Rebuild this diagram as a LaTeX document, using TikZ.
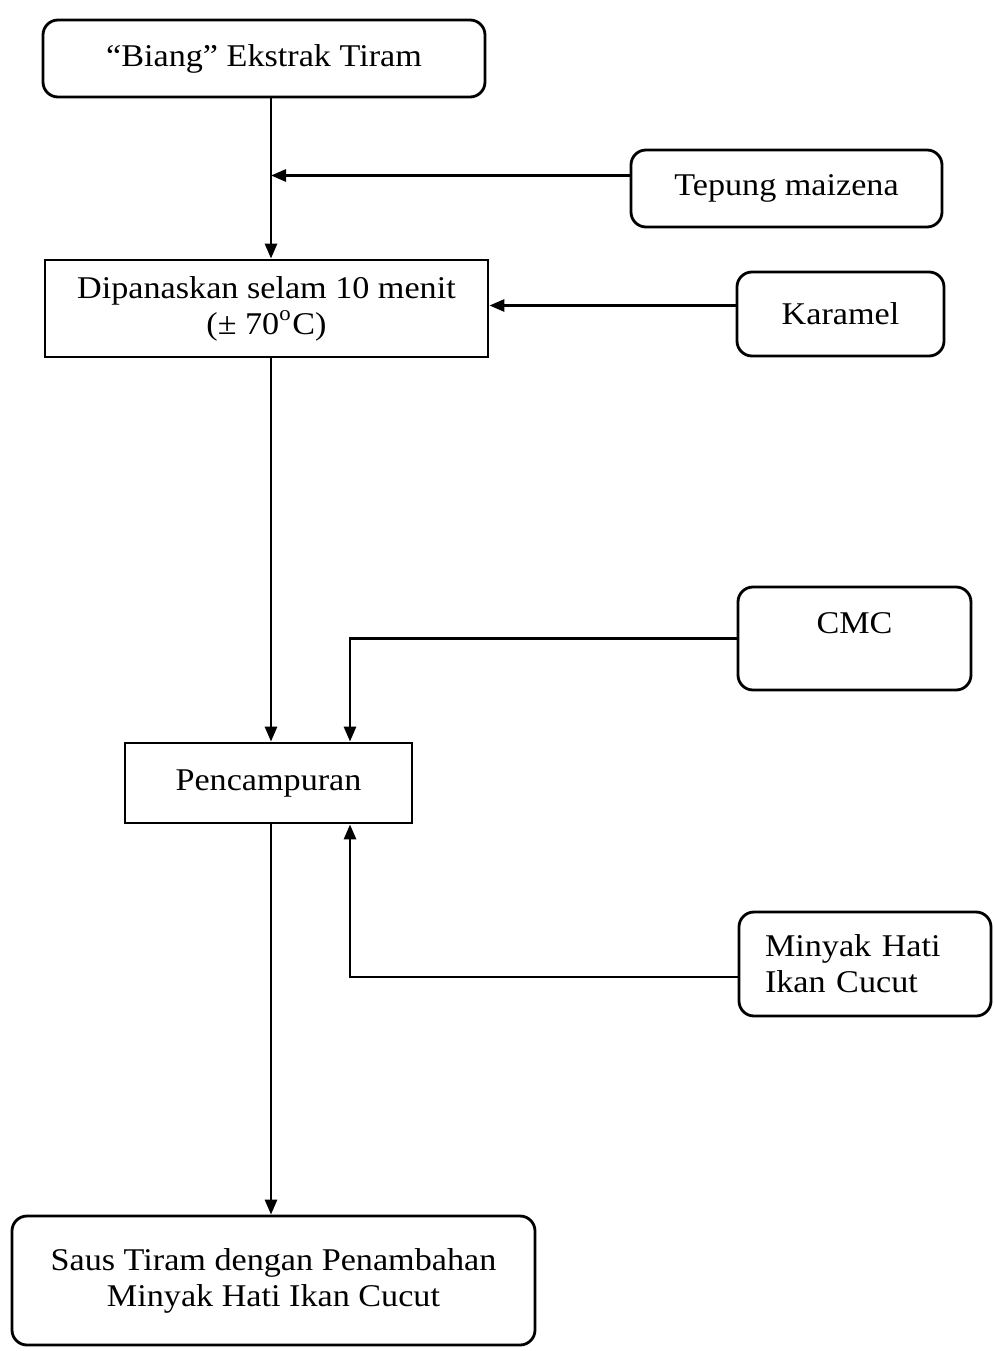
\documentclass[tikz,border=0pt]{standalone}
\usepackage{fontspec}
\setmainfont{Liberation Serif}[FakeStretch=1.08]
\usetikzlibrary{arrows.meta}
\tikzset{
  bahan/.style={draw,line width=0.8pt,rounded corners=1.5mm,align=center,font=\fontsize{9}{10.2}\selectfont},
  proses/.style={draw,line width=0.8pt,align=center,font=\fontsize{9}{10.2}\selectfont},
  panah/.style={line width=0.8pt,-{Triangle[length=1.5mm,width=1.2mm]}},
  garis/.style={line width=0.8pt}
}
\begin{document}
\begin{tikzpicture}
\useasboundingbox (0,0) rectangle (9.93,-13.51);
% bahan dan proses
\node[bahan,minimum width=4.42cm,minimum height=0.77cm] (biang) at (2.64,-0.585) {``Biang'' Ekstrak Tiram};
\node[bahan,minimum width=3.11cm,minimum height=0.77cm] (tepung) at (7.865,-1.885) {Tepung maizena};
\node[proses,minimum width=4.43cm,minimum height=0.97cm] (panas) at (2.665,-3.085) {Dipanaskan selam 10 menit\\(± 70\textsuperscript{o}C)};
\node[bahan,minimum width=2.07cm,minimum height=0.84cm] (karamel) at (8.405,-3.14) {Karamel};
\node[bahan,minimum width=2.33cm,minimum height=1.03cm,text depth=0.3cm] (cmc) at (8.545,-6.385) {CMC};
\node[proses,minimum width=2.87cm,minimum height=0.80cm] (campur) at (2.685,-7.83) {Pencampuran};
\node[bahan,minimum width=2.52cm,minimum height=1.04cm,text width=2.0cm,align=left] (minyak) at (8.65,-9.64) {Minyak Hati\\Ikan Cucut};
\node[bahan,minimum width=5.23cm,minimum height=1.29cm] (saus) at (2.735,-12.805) {Saus Tiram dengan Penambahan\\Minyak Hati Ikan Cucut};
% jalur utama
\coordinate (jalur) at (2.71,0);
\coordinate (cabang) at (3.5,0);
\coordinate (masuk) at ([yshift=0.13cm]tepung.west);
\coordinate (keluar) at ([yshift=-0.13cm]minyak.west);
\draw[panah] (biang.south -| jalur) -- (panas.north -| jalur);
\draw[panah] (masuk) -- (jalur |- masuk);
\draw[panah] ([yshift=0.03cm]karamel.west |- panas.east) -- ([yshift=0.03cm]panas.east);
\draw[panah] (panas.south -| jalur) -- (campur.north -| jalur);
\draw[panah] (cmc.west) -- (cabang |- cmc.west) -- (campur.north -| cabang);
\draw[panah] (keluar) -- (cabang |- keluar) -- (campur.south -| cabang);
\draw[panah] (campur.south -| jalur) -- (saus.north -| jalur);
\end{tikzpicture}
\end{document}
